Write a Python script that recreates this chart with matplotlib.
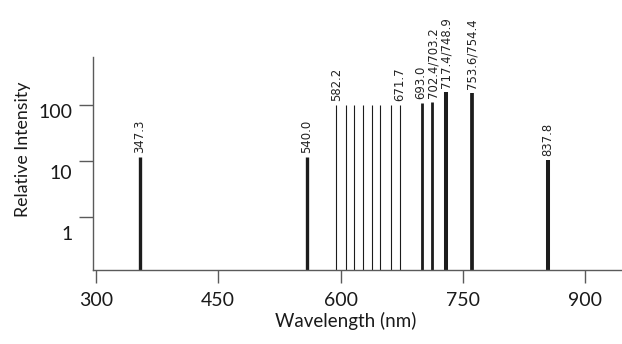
import matplotlib
matplotlib.use("Agg")
import matplotlib.pyplot as plt
from matplotlib.ticker import FixedLocator, NullFormatter, FixedFormatter

# emission lines: plotted wavelength, relative intensity, label
line_pos = [354, 559, 595, 607, 617, 627, 639, 649, 661.5, 672.5,
            700, 712, 729, 761, 854]
line_int = [11.6, 11.5, 100, 100, 100, 100, 100, 100, 100, 100,
            107, 114, 170, 163, 10.3]
line_labels = ['347.3', '540.0', '582.2', '', '', '', '', '', '', '671.7',
               '693.0', '702.4/703.2', '717.4/748.9', '753.6/754.4', '837.8']

x_ticks = [300, 450, 600, 750, 900]
y_ticks = [1, 10, 100]
y_tick_labels = ['1', '10', '100']

# line widths (pt): thick for strong lines, thin for the band
widths = [2.4, 2.4, 0.8, 0.8, 0.8, 0.8, 0.8, 0.8, 0.8, 0.8,
          2.0, 2.0, 2.9, 2.7, 2.9]
# small sideways nudges (pt) so the crowded labels don't collide
nudges = [0, 0, 0, 0, 0, 0, 0, 0, 0, 0, -1.2, 0.8, 0.5, 0, 0]

axis_col = '#5a5a5a'
bar_col = '#1c1c1c'
plt.rcParams['font.family'] = ['Lato', 'DejaVu Sans']

fig = plt.figure(figsize=(6.22, 3.44), dpi=100)
ax = fig.add_axes([93.3 / 622, 74 / 344, 528.7 / 622, 213.3 / 344])

ax.set_yscale('log')
ax.set_xlim(296.8, 945.2)
ax.set_ylim(0.111, 735)

for x, h, lw, lab, dx in zip(line_pos, line_int, widths, line_labels, nudges):
    ax.vlines(x, 0.01, h, colors=bar_col, linewidth=lw, capstyle='butt')
    if lab:
        ax.annotate(lab, (x, h), xytext=(dx, 3), textcoords='offset points',
                    rotation=90, ha='center', va='bottom', fontsize=8.4,
                    family='DejaVu Sans', color='#222222')

for s in ['top', 'right']:
    ax.spines[s].set_visible(False)
for s in ['left', 'bottom']:
    ax.spines[s].set_color(axis_col)
    ax.spines[s].set_linewidth(1.0)

ax.set_xticks(x_ticks)
ax.tick_params(axis='x', which='major', length=9, width=1.0, color=axis_col,
               labelsize=14, pad=7, labelcolor='#1a1a1a')

# y: tick marks at the decades, labels set a bit lower as in the original
ax.yaxis.set_major_locator(FixedLocator(y_ticks))
ax.yaxis.set_major_formatter(NullFormatter())
ax.yaxis.set_minor_locator(FixedLocator([0.51, 6.4, 79]))
ax.yaxis.set_minor_formatter(FixedFormatter(y_tick_labels))
ax.tick_params(axis='y', which='major', length=10, width=1.0, color=axis_col)
ax.tick_params(axis='y', which='minor', length=0, labelsize=14, pad=15,
               labelcolor='#1a1a1a')

fig.text(346 / 622, 1 - 321 / 344, 'Wavelength (nm)', ha='center', va='center',
         fontsize=13.5, color='#1a1a1a')
fig.text(23 / 622, 1 - 149 / 344, 'Relative Intensity', ha='center', va='center',
         rotation=90, fontsize=12.8, color='#1a1a1a')

fig.savefig('out.png', dpi=100)
